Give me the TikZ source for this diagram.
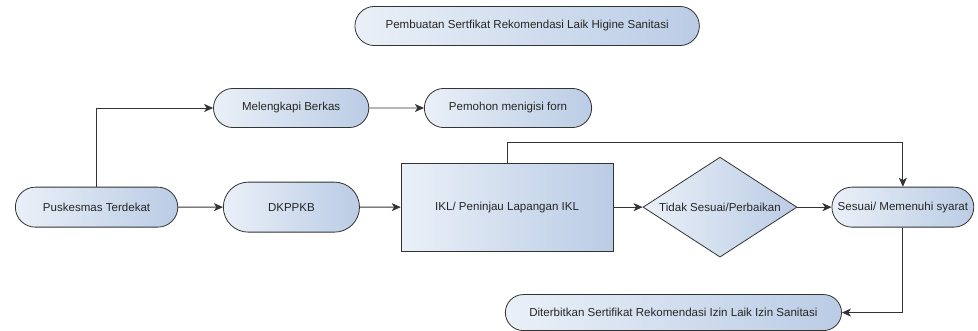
\documentclass[tikz,border=0pt]{standalone}
\usepackage{fontspec}
\setmainfont{Liberation Sans}
\usetikzlibrary{shapes.misc,shapes.geometric,arrows.meta}
\definecolor{isikiri}{RGB}{234,240,248}
\definecolor{isikanan}{RGB}{186,204,229}
\definecolor{garis}{RGB}{51,51,51}
\begin{document}
\begin{tikzpicture}[>={Stealth[length=9pt,width=8pt,inset=2.5pt]},draw=garis,line width=0.8pt,
	font=\fontsize{11.5}{13}\selectfont,text=black!85,
	isi/.style={draw=garis,left color=isikiri,right color=isikanan},
	pill/.style={isi,rounded rectangle,minimum height=1.37cm},
	kotak/.style={isi,rectangle,minimum width=7.42cm,minimum height=3.08cm},
	belah/.style={isi,diamond,aspect=1.54,inner sep=0pt,minimum width=5.39cm,minimum height=3.5cm}]
	\useasboundingbox (0,0) rectangle (34.23,-11.585);
	\node (T) at (18.45, -0.91)	[pill, minimum width=12.29cm]	{Pembuatan Sertfikat Rekomendasi Laik Higine Sanitasi};
	\node (MB) at (10.19, -3.78)	[pill, minimum width=5.67cm]	{Melengkapi Berkas};
	\node (PF) at (17.78, -3.78)	[pill, minimum width=6.09cm]	{Pemohon menigisi forn};
	\node (PT) at ( 3.38, -7.25)	[pill, minimum width=5.92cm, minimum height=1.40cm]	{Puskesmas Terdekat};
	\node (DK) at (10.20, -7.25)	[pill, minimum width=5.00cm, minimum height=1.75cm]	{DKPPKB};
	\node (IKL) at (17.75, -7.25)	[kotak]	{IKL/ Peninjau Lapangan IKL};
	\node (TS) at (25.20, -7.25)	[belah]	{Tidak Sesuai/Perbaikan};
	\node (SM) at (31.60, -7.25)	[pill, minimum width=5.20cm, minimum height=1.40cm]	{Sesuai/ Memenuhi syarat};
	\node (DS) at (23.57, -10.94)	[pill, minimum width=12.00cm, minimum height=1.26cm]	{Diterbitkan Sertifikat Rekomendasi Izin Laik Izin Sanitasi};
	\coordinate (atas) at (17.75, -4.97);
	\draw[->] (PT.north) |- (MB.west);
	\draw[->] (MB) -- (PF);
	\draw[->] (PT) -- (DK);
	\draw[->] (DK) -- (IKL);
	\draw[->] (IKL) -- (TS);
	\draw[->] (TS) -- (SM);
	\draw[->] (IKL.north) -- (atas) -| (SM.north);
	\draw[->] (SM.south) |- (DS.east);
\end{tikzpicture}
\end{document}
